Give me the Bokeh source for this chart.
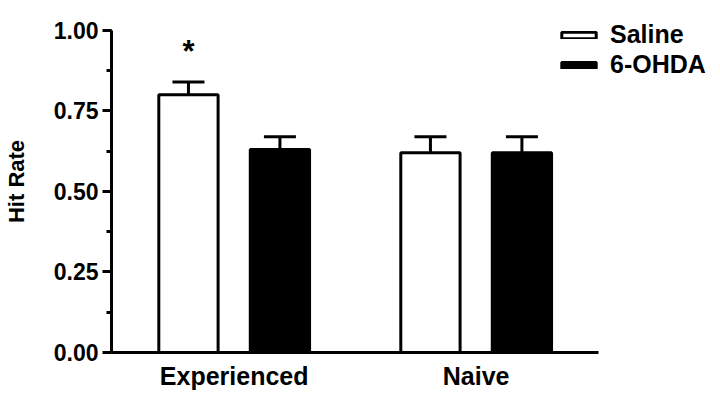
from bokeh.plotting import figure
from bokeh.models import (ColumnDataSource, Whisker, TeeHead, Legend, LegendItem,
                          SingleIntervalTicker, FixedTicker, LinearAxis)
from bokeh.core.properties import value
from bokeh.embed import file_html
from bokeh.resources import INLINE

groups = ["Experienced", "Naive"]
series = ["Saline", "6-OHDA"]
saline_mean = [0.80, 0.62]
saline_sem = [0.04, 0.05]
ohda_mean = [0.63, 0.62]
ohda_sem = [0.04, 0.05]
y_ticks = [0.0, 0.25, 0.5, 0.75, 1.0]
y_tick_labels = ["0.00", "0.25", "0.50", "0.75", "1.00"]
y_title = "Hit Rate"
star_label = "*"

FONT = "Liberation Sans"
group_pos = [1, 2]
offset = 0.189
bw = 0.245
x_axis_bounds = (0.493, 2.505)
y_axis_bounds = (0.0, 1.0)

p = figure(width=720, height=401, output_backend="svg", toolbar_location=None,
           x_range=(0.493, 2.989), y_range=(0, 1.062),
           min_border_left=111, min_border_right=5, min_border_top=10, min_border_bottom=49)
p.outline_line_color = None
p.xgrid.visible = False
p.ygrid.visible = False
p.background_fill_color = "white"

sal_x = [g - offset for g in group_pos]
ohd_x = [g + offset for g in group_pos]

src_s = ColumnDataSource(dict(x=sal_x, top=saline_mean,
                              upper=[m + e for m, e in zip(saline_mean, saline_sem)]))
src_o = ColumnDataSource(dict(x=ohd_x, top=ohda_mean,
                              upper=[m + e for m, e in zip(ohda_mean, ohda_sem)]))

for src in (src_s, src_o):
    w = Whisker(base="x", lower="top", upper="upper", source=src, dimension="height",
                line_width=3, line_color="black", lower_head=None,
                upper_head=TeeHead(size=32, line_width=3, line_color="black"))
    p.add_layout(w)

r_s = p.vbar(x="x", top="top", width=bw, source=src_s, fill_color="white",
             line_color="black", line_width=3)
r_o = p.vbar(x="x", top="top", width=bw, source=src_o, fill_color="black",
             line_color="black", line_width=3)

# significance star
p.text(x=[sal_x[0]], y=[src_s.data["upper"][0] + 0.095], text=[star_label],
       text_font=value(FONT), text_font_style="bold", text_font_size="31px",
       text_align="center", text_baseline="middle", text_color="black")

# axes
p.yaxis.bounds = y_axis_bounds
p.yaxis.ticker = SingleIntervalTicker(interval=0.25, num_minor_ticks=2)
p.yaxis.major_label_overrides = {t: l for t, l in zip(y_ticks, y_tick_labels)}
p.yaxis.axis_line_width = 3
p.yaxis.major_tick_line_width = 3
p.yaxis.minor_tick_line_width = 3
p.yaxis.major_tick_out = 9
p.yaxis.major_tick_in = 0
p.yaxis.minor_tick_out = 5
p.yaxis.minor_tick_in = 0
p.yaxis.major_label_text_font = FONT
p.yaxis.major_label_text_font_style = "bold"
p.yaxis.major_label_text_font_size = "23px"
p.yaxis.major_label_text_color = "black"
p.yaxis.major_label_standoff = 4

# axis title carried by a label-only axis so it can be centred like the original
title_axis = LinearAxis(axis_label=y_title, bounds=(0.0, 1.056),
                        ticker=FixedTicker(ticks=[]),
                        axis_line_color=None, major_tick_line_color=None,
                        minor_tick_line_color=None,
                        axis_label_text_font=FONT, axis_label_text_font_style="bold",
                        axis_label_text_font_size="22px", axis_label_text_color="black",
                        axis_label_standoff=22)
p.add_layout(title_axis, "left")

p.xaxis.bounds = x_axis_bounds
p.xaxis.ticker = FixedTicker(ticks=group_pos)
p.xaxis.major_label_overrides = {g: n for g, n in zip(group_pos, groups)}
p.xaxis.axis_line_width = 3
p.xaxis.major_tick_line_color = None
p.xaxis.minor_tick_line_color = None
p.xaxis.major_label_text_font = FONT
p.xaxis.major_label_text_font_style = "bold"
p.xaxis.major_label_text_font_size = "25px"
p.xaxis.major_label_text_color = "black"
p.xaxis.major_label_standoff = 3

legend = Legend(items=[LegendItem(label=series[0], renderers=[r_s]),
                       LegendItem(label=series[1], renderers=[r_o])],
                location=(446, 273), orientation="vertical",
                glyph_width=43, glyph_height=8, label_standoff=10,
                label_text_font=FONT, label_text_font_style="bold",
                label_text_font_size="25px", label_text_color="black",
                label_height=24, spacing=1, padding=0, margin=0,
                border_line_color=None, background_fill_alpha=0)
p.add_layout(legend, "center")

open("out.html", "w").write(file_html(p, INLINE))
